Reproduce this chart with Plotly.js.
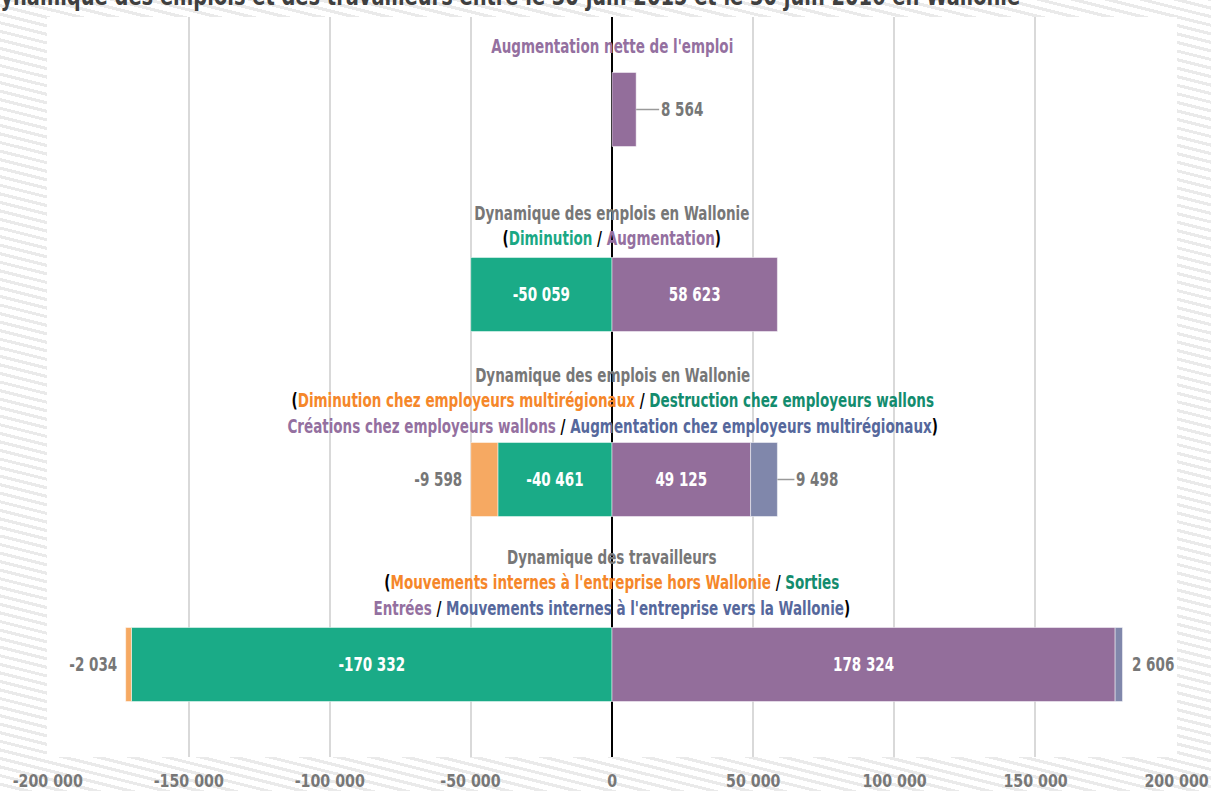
<!DOCTYPE html>
<html>
<head>
<meta charset="utf-8">
<script src="https://cdn.plot.ly/plotly-3.0.1.min.js"></script>
<style>
  html, body { margin: 0; padding: 0; }
  body {
    width: 1211px; height: 791px; overflow: hidden;
    background: repeating-linear-gradient(14deg, #ffffff 0px, #ffffff 5.2px, #eaeaea 5.2px, #eaeaea 8.3px);
  }
  #chart { width: 1211px; height: 791px; }
</style>
</head>
<body>
<div id="chart"></div>
<script>
// ---- data ----
const groups = ["net", "emplois", "emplois_detail", "travailleurs"]; // top to bottom
const netIncrease      = [8564, null, null, null];
const decreaseWalloon  = [null, -50059, -40461, -170332];  // Diminution / Destruction / Sorties
const decreaseMulti    = [null, null, -9598, -2034];       // multirégionaux / hors Wallonie
const increaseWalloon  = [null, 58623, 49125, 178324];     // Augmentation / Créations / Entrées
const increaseMulti    = [null, null, 9498, 2606];         // multirégionaux / vers la Wallonie
const tickValues = [-200000, -150000, -100000, -50000, 0, 50000, 100000, 150000, 200000];
const chartTitle = "Dynamique des emplois et des travailleurs entre le 30 juin 2015 et le 30 juin 2016 en Wallonie";

// ---- styles ----
const FONT = '"DejaVu Sans Condensed", "DejaVu Sans", sans-serif';
const C = {
  green: "#1aab87", purple: "#936e9b", orange: "#f6a962", blue: "#8087ab",
  gray: "#777777", tGreen: "#1aa884", tGreen2: "#138c6e", tPurple: "#9470a0",
  tOrange: "#f5872a", tBlue: "#56689c"
};
const LBL = 19.5;      // label font size
const SX_LBL = 0.77;   // horizontal condensing of labels
const SX_TICK = 0.93;
const SX_TITLE = 0.80;

function fmt(v) {
  const s = Math.abs(v).toString().replace(/\B(?=(\d{3})+(?!\d))/g, " ");
  return (v < 0 ? "-" : "") + s;
}
function b(t) { return "<b>" + t + "</b>"; }
function col(t, c) { return '<span style="color:' + c + '">' + t + '</span>'; }

const order = groups.slice().reverse(); // bottom first for category axis
const idx = g => order.indexOf(g);
function txt(arr) { return arr.map(v => v == null ? "" : b(fmt(v))); }

const bw = 0.4;
const lineStyle = { color: "rgba(255,255,255,0.6)", width: 0.8 };
const traces = [
  { type: "bar", orientation: "h", y: groups, x: netIncrease, width: bw,
    marker: { color: C.purple, line: lineStyle }, hoverinfo: "skip" },
  { type: "bar", orientation: "h", y: groups, x: decreaseWalloon, width: bw,
    marker: { color: C.green, line: lineStyle },
    text: txt(decreaseWalloon), textposition: "inside", insidetextanchor: "middle",
    textfont: { color: "#ffffff", size: LBL, family: FONT }, hoverinfo: "skip" },
  { type: "bar", orientation: "h", y: groups, x: decreaseMulti, width: bw,
    marker: { color: C.orange, line: lineStyle }, hoverinfo: "skip" },
  { type: "bar", orientation: "h", y: groups, x: increaseWalloon, width: bw,
    marker: { color: C.purple, line: lineStyle },
    text: txt(increaseWalloon), textposition: "inside", insidetextanchor: "middle",
    textfont: { color: "#ffffff", size: LBL, family: FONT }, hoverinfo: "skip" },
  { type: "bar", orientation: "h", y: groups, x: increaseMulti, width: bw,
    marker: { color: C.blue, line: lineStyle }, hoverinfo: "skip" }
];

const annotations = [];
const lblFont = { family: FONT, size: LBL, color: C.gray };

// outside value labels
groups.forEach((g, i) => {
  const y = idx(g);
  if (netIncrease[i] != null) {
    annotations.push({ x: netIncrease[i], y: y, xref: "x", yref: "y", text: b(fmt(netIncrease[i])),
      showarrow: true, arrowhead: 0, arrowwidth: 1.5, arrowcolor: "#9a9a9a", ax: 23, ay: 0,
      xanchor: "left", font: lblFont });
  }
  if (decreaseMulti[i] != null) {
    const end = (decreaseWalloon[i] || 0) + decreaseMulti[i];
    annotations.push({ x: end, y: y, xref: "x", yref: "y", text: b(fmt(decreaseMulti[i])),
      showarrow: false, xanchor: "right", xshift: -7, font: lblFont });
  }
  if (increaseMulti[i] != null) {
    const end = (increaseWalloon[i] || 0) + increaseMulti[i];
    if (increaseMulti[i] > 5000) {
      annotations.push({ x: end, y: y, xref: "x", yref: "y", text: b(fmt(increaseMulti[i])),
        showarrow: true, arrowhead: 0, arrowwidth: 1.5, arrowcolor: "#9a9a9a", ax: 17, ay: 0,
        xanchor: "left", font: lblFont });
    } else {
      annotations.push({ x: end, y: y, xref: "x", yref: "y", text: b(fmt(increaseMulti[i])),
        showarrow: false, xanchor: "left", xshift: 8, font: lblFont });
    }
  }
});

// group titles
const slash = col("/", "#000000");
const groupTitles = {
  net: col("Augmentation nette de l'emploi", C.tPurple),
  emplois: col("Dynamique des emplois en Wallonie", C.gray) + "<br>" +
    col("(", "#000") + col("Diminution", C.tGreen) + " " + slash + " " + col("Augmentation", C.tPurple) + col(")", "#000"),
  emplois_detail: col("Dynamique des emplois en Wallonie", C.gray) + "<br>" +
    col("(", "#000") + col("Diminution chez employeurs multirégionaux", C.tOrange) + " " + slash + " " +
    col("Destruction chez employeurs wallons", C.tGreen2) + "<br>" +
    col("Créations chez employeurs wallons", C.tPurple) + " " + slash + " " +
    col("Augmentation chez employeurs multirégionaux", C.tBlue) + col(")", "#000"),
  travailleurs: col("Dynamique des travailleurs", C.gray) + "<br>" +
    col("(", "#000") + col("Mouvements internes à l'entreprise hors Wallonie", C.tOrange) + " " + slash + " " +
    col("Sorties", C.tGreen2) + "<br>" +
    col("Entrées", C.tPurple) + " " + slash + " " +
    col("Mouvements internes à l'entreprise vers la Wallonie", C.tBlue) + col(")", "#000")
};
const titleShift = { net: 12, emplois: 6, emplois_detail: 3, travailleurs: 6 };
groups.forEach(g => {
  annotations.push({ x: 0, y: idx(g) + bw / 2, xref: "x", yref: "y", text: b(groupTitles[g]),
    showarrow: false, xanchor: "center", yanchor: "bottom", yshift: titleShift[g],
    font: { family: FONT, size: LBL, color: C.gray }, align: "center" });
});

// tick labels drawn as annotations so they can be condensed like the reference font
tickValues.forEach(v => {
  annotations.push({ x: v, y: 0, xref: "x", yref: "paper", text: b(fmt(v)), showarrow: false,
    xanchor: "center", yanchor: "middle", yshift: -24, font: { family: FONT, size: 17, color: C.gray },
    _sx: SX_TICK });
});

// chart title (partly cut at the top, as in the reference)
annotations.push({ x: -0.0575, y: 1.0288, xref: "paper", yref: "paper", text: b(chartTitle),
  showarrow: false, xanchor: "left", yanchor: "middle",
  font: { family: FONT, size: 27, color: "#404040" }, _sx: SX_TITLE });

const sxList = annotations.map(a => { const s = a._sx || SX_LBL; delete a._sx; return s; });

const layout = {
  width: 1211, height: 791,
  margin: { l: 47, r: 34, t: 17, b: 34, pad: 0 },
  paper_bgcolor: "rgba(0,0,0,0)", plot_bgcolor: "#ffffff",
  barmode: "relative", showlegend: false,
  xaxis: {
    range: [-200250, 200250], tickvals: tickValues, showticklabels: false,
    showgrid: true, gridcolor: "#d9d9d9", gridwidth: 2,
    zeroline: true, zerolinecolor: "#000000", zerolinewidth: 2, ticks: "",
    fixedrange: true
  },
  yaxis: {
    type: "category", categoryorder: "array", categoryarray: order,
    range: [-0.5, 3.5], showticklabels: false, showgrid: false, zeroline: false, ticks: "",
    fixedrange: true
  },
  annotations: annotations,
  font: { family: FONT }
};

function condense(el, sx, anchor) {
  const bb = el.getBBox();
  let ax = bb.x + bb.width / 2;
  if (anchor === "left") ax = bb.x;
  if (anchor === "right") ax = bb.x + bb.width;
  const prev = el.getAttribute("transform") || "";
  el.setAttribute("transform", prev + " translate(" + ax + ",0) scale(" + sx + ",1) translate(" + (-ax) + ",0)");
}

Plotly.newPlot("chart", traces, layout, { displayModeBar: false, staticPlot: true }).then(gd => {
  gd.querySelectorAll("g.annotation").forEach(g => {
    const i = +g.getAttribute("data-index");
    const t = g.querySelector("text.annotation-text");
    if (!t) return;
    condense(t, sxList[i], annotations[i].xanchor);
  });
  gd.querySelectorAll("text.bartext").forEach(t => condense(t, SX_LBL, "center"));
});
</script>
</body>
</html>
